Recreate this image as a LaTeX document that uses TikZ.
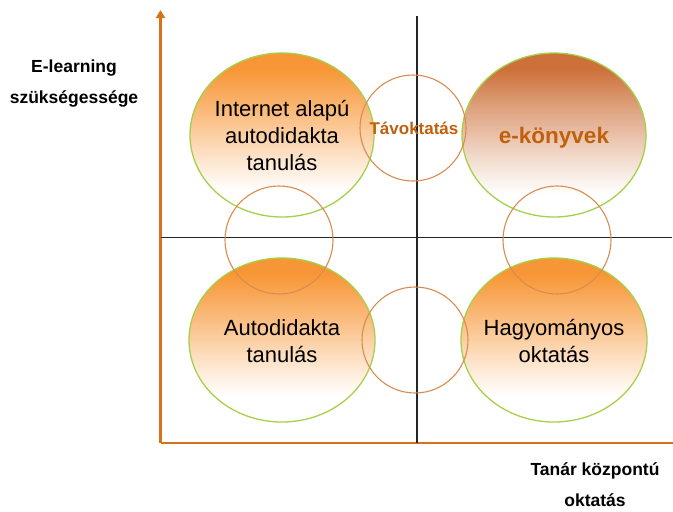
\documentclass[tikz,border=0pt]{standalone}
\usepackage{fontspec}
\setmainfont{Liberation Sans}
\usetikzlibrary{arrows.meta}
\definecolor{axisorange}{HTML}{D9701C}
\definecolor{rimgreen}{HTML}{A6D04A}
\definecolor{ringorange}{HTML}{D98C4E}
\definecolor{fillorange}{HTML}{F7912C}
\definecolor{fillbrown}{HTML}{C9652A}
\definecolor{labelorange}{HTML}{C0600C}
% visible part of a path shading: 25bp (bottom) .. 75bp (top)
\pgfdeclareverticalshading{orangefade}{100bp}{
  color(0bp)=(white); color(33bp)=(white); color(45bp)=(fillorange!30!white);
  color(58bp)=(fillorange!65!white); color(70bp)=(fillorange!95!white); color(100bp)=(fillorange)}
\pgfdeclareverticalshading{brownfade}{100bp}{
  color(0bp)=(white); color(32bp)=(white); color(45bp)=(fillbrown!28!white);
  color(58bp)=(fillbrown!60!white); color(70bp)=(fillbrown!92!white); color(100bp)=(fillbrown)}
\tikzset{
  ring/.style={draw=ringorange, line width=1.1pt},
  ovaltext/.style={align=center, font=\fontsize{22}{27}\selectfont, text=black},
  axislabel/.style={align=center, inner sep=0pt, font=\bfseries\fontsize{17.5}{31}\selectfont},
}
\begin{document}
\begin{tikzpicture}[x=1pt,y=-1pt]
\useasboundingbox (0,0) rectangle (673,512);
% big ovals
\shade[shading=orangefade, draw=rimgreen, line width=1.3pt] (282,135) ellipse [x radius=92, y radius=82];
\shade[shading=brownfade, draw=rimgreen, line width=1.3pt] (554,135) ellipse [x radius=92, y radius=82];
\shade[shading=orangefade, draw=rimgreen, line width=1.3pt] (282,340) ellipse [x radius=93, y radius=82];
\shade[shading=orangefade, draw=rimgreen, line width=1.3pt] (554,340) ellipse [x radius=93, y radius=82];
% axes
\coordinate (origin) at (160.5,443);
\coordinate (ytop) at (160.5,10);
\coordinate (xend) at (673,443);
\draw[axisorange, line width=2.6pt, -{Triangle[length=8pt,width=9pt]}] (origin) -- (ytop);
\draw[axisorange, line width=2.6pt] (origin) -- (xend);
\coordinate (hl) at (160.5,237.5);
\coordinate (hr) at (672,237.5);
\coordinate (vt) at (417,16);
\coordinate (vb) at (417,443);
\draw[black!85, line width=1.1pt] (hl) -- (hr);
\draw[black!85, line width=1.1pt] (vt) -- (vb);
% rings
\draw[ring] (413,128) circle [radius=53];
\draw[ring] (279,240) circle [radius=54];
\draw[ring] (557,240) circle [radius=54];
\draw[ring] (415,340) circle [radius=53];
% texts
\node[ovaltext] (t1) at (282,136) {Internet alapú\\autodidakta\\tanulás};
\node[font=\bfseries\fontsize{22.5}{26}\selectfont, text=labelorange] (t2) at (554,138) {e-könyvek};
\node[ovaltext] (t3) at (282,341) {Autodidakta\\tanulás};
\node[ovaltext] (t4) at (554,341) {Hagyományos\\oktatás};
\node[font=\bfseries\fontsize{17}{20}\selectfont, text=labelorange] (t5) at (414,128) {Távoktatás};
\node[axislabel] (ylab) at (74,84) {E-learning\\szükségessége};
\node[axislabel] (xlab) at (595,485) {Tanár központú\\oktatás};
\end{tikzpicture}
\end{document}
